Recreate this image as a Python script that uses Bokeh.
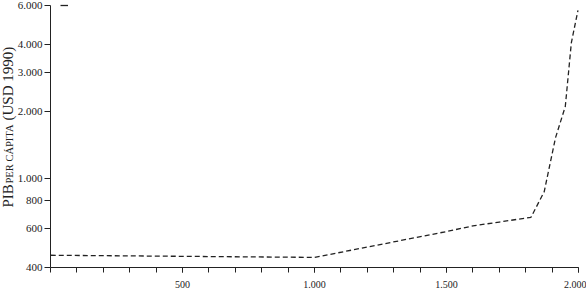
import math
from bokeh.plotting import figure
from bokeh.models import FixedTicker, Label, Legend, LegendItem, Range1d
from bokeh.embed import file_html
from bokeh.resources import INLINE

years = [1, 1000, 1500, 1600, 1700, 1820, 1870, 1913, 1950, 1973, 1998]
gdp_pc = [454, 444, 580, 615, 640, 672, 875, 1530, 2113, 4091, 5709]

y_ticks = [400, 600, 800, 1000, 2000, 3000, 4000, 6000]
y_tick_labels = ["400", "600", "800", "1.000", "2.000", "3.000", "4.000", "6.000"]
x_major = [500, 1000, 1500, 2000]
x_major_labels = ["500", "1.000", "1.500", "2.000"]
x_minor = list(range(0, 2001, 100))

SERIF = "Liberation Serif"
INK = "#222222"

# The frame covers the whole canvas; both axes are pinned to data positions
W, H = 586, 290
AX_LEFT, AX_RIGHT = 50, 578      # pixel columns of year 0 and year 2000
AX_TOP, AX_BOTTOM = 5, 267       # pixel rows of 6000 and 400
X0, X1 = 0, 2000
Y0, Y1 = 400, 6000

kx = (X1 - X0) / (AX_RIGHT - AX_LEFT)
x_start = X0 - AX_LEFT * kx
x_end = X1 + (W - AX_RIGHT) * kx
ky = (math.log10(Y1) - math.log10(Y0)) / (AX_BOTTOM - AX_TOP)
y_end = 10 ** (math.log10(Y1) + AX_TOP * ky)
y_start = 10 ** (math.log10(Y0) - (H - AX_BOTTOM) * ky)

p = figure(width=W, height=H, y_axis_type="log",
           x_range=Range1d(x_start, x_end), y_range=Range1d(y_start, y_end),
           output_backend="svg", toolbar_location=None,
           min_border_left=0, min_border_right=0, min_border_top=0, min_border_bottom=0)
p.frame_width = W
p.frame_height = H
p.outline_line_color = None
p.xgrid.grid_line_color = None
p.ygrid.grid_line_color = None

r = p.line(years, gdp_pc, line_color=INK, line_width=1.3, line_dash="5 3")

p.xaxis.fixed_location = Y0
p.xaxis.bounds = (X0, X1)
p.xaxis.ticker = FixedTicker(ticks=x_major, minor_ticks=x_minor)
p.xaxis.major_label_overrides = dict(zip(x_major, x_major_labels))
p.xaxis.major_tick_in = 0
p.xaxis.major_tick_out = 5
p.xaxis.minor_tick_in = 0
p.xaxis.minor_tick_out = 5
p.xaxis.major_label_standoff = 8
p.xaxis.major_label_text_font = SERIF
p.xaxis.major_label_text_font_size = "10px"
p.xaxis.major_label_text_color = INK
p.xaxis.axis_line_color = INK
p.xaxis.major_tick_line_color = INK
p.xaxis.minor_tick_line_color = INK

p.yaxis.fixed_location = X0
p.yaxis.bounds = (Y0, Y1)
p.yaxis.ticker = FixedTicker(ticks=y_ticks, minor_ticks=[])
p.yaxis.major_label_overrides = dict(zip(y_ticks, y_tick_labels))
p.yaxis.major_tick_in = 0
p.yaxis.major_tick_out = 6
p.yaxis.major_label_standoff = 2
p.yaxis.major_label_text_font = SERIF
p.yaxis.major_label_text_font_size = "11px"
p.yaxis.major_label_text_color = INK
p.yaxis.axis_line_color = INK
p.yaxis.major_tick_line_color = INK
p.yaxis.minor_tick_line_color = None

# y axis title, "per cápita" in small caps (screen offsets from the frame's bottom-left)
lab1 = Label(x=7, y=83, x_units="screen", y_units="screen", text="PIB",
             angle=math.pi / 2, text_font=SERIF, text_font_size="15px",
             text_baseline="middle", text_align="left", text_color=INK)
lab2 = Label(x=8.5, y=107, x_units="screen", y_units="screen", text="PER CÁPITA",
             angle=math.pi / 2, text_font=SERIF, text_font_size="10.5px",
             text_baseline="middle", text_align="left", text_color=INK)
lab3 = Label(x=7, y=170, x_units="screen", y_units="screen", text="(USD 1990)",
             angle=math.pi / 2, text_font=SERIF, text_font_size="15px",
             text_baseline="middle", text_align="left", text_color=INK)
for lab in (lab1, lab2, lab3):
    p.add_layout(lab)

stub = p.line([0], [500], line_color=INK, line_width=1.3)
legend = Legend(items=[LegendItem(label=" ", renderers=[stub])], location=(60, 283),
                glyph_width=8, glyph_height=4, label_width=0, label_height=4,
                label_text_font_size="1px", padding=0, margin=0, spacing=0,
                label_standoff=0, border_line_color=None, background_fill_alpha=0)
p.add_layout(legend)

open("out.html", "w").write(file_html(p, INLINE))
